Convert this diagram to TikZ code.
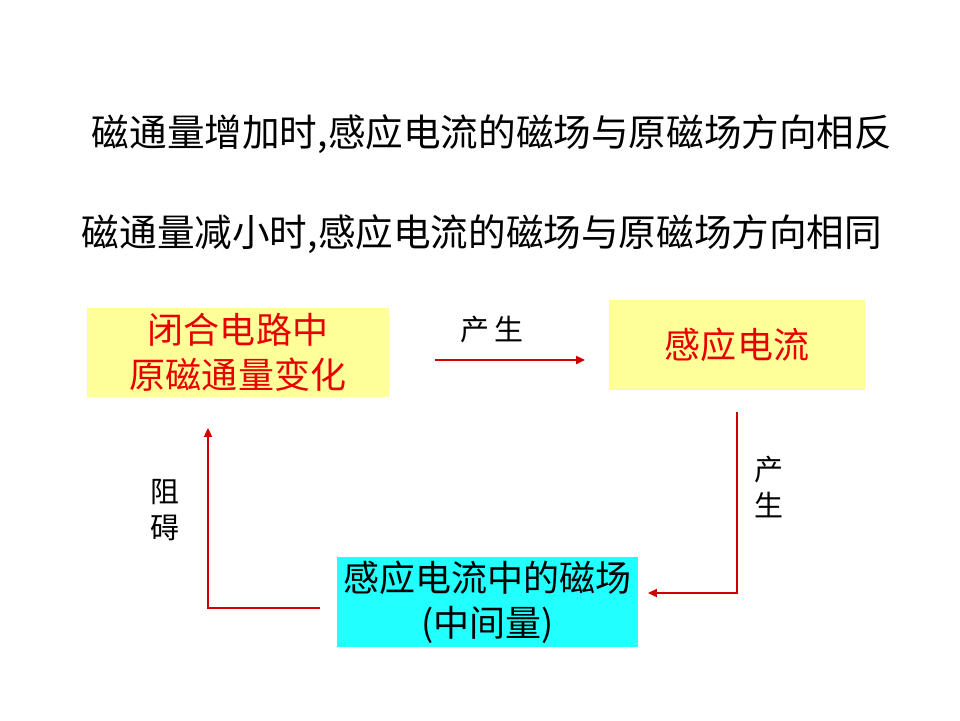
\documentclass[tikz,border=0pt]{standalone}
\usepackage{fontspec}
\setmainfont{Noto Sans CJK SC}
\usetikzlibrary{arrows.meta}
\definecolor{paleyellow}{HTML}{FFFF99}
\definecolor{brightcyan}{HTML}{22FFFF}
\definecolor{boxred}{HTML}{E80000}
\definecolor{linkred}{HTML}{D00000}
\begin{document}
\begin{tikzpicture} [
                x=0.02cm, y=-0.02cm,
                box/.style={fill=#1,minimum height=1.8cm,inner sep=0pt,align=center,
                    font=\fontsize{20.5}{25.5}\selectfont},
                rule/.style={font=\fontsize{21.4}{25}\selectfont},
                tag/.style={font=\fontsize{16.5}{21}\selectfont,align=center},
                link/.style = {draw=linkred,line width=1.1pt,-{Triangle[length=5pt,width=4.5pt]}},
            ]
            \useasboundingbox (0,0) rectangle (960,720);
            % The two rules on top
            \node[rule] (rise) at (492,134) {磁通量增加时,感应电流的磁场与原磁场方向相反};
            \node[rule] (fall) at (482,234) {磁通量减小时,感应电流的磁场与原磁场方向相同};
            % Boxes of the loop
            \node[box=paleyellow,minimum width=6.04cm,text=boxred] (change) at (238,352.5)
                {闭合电路中\\原磁通量变化};
            \node[box=paleyellow,minimum width=5.12cm,text=boxred] (current) at (737,345)
                {感应电流};
            \node[box=brightcyan,minimum width=6.02cm] (field) at (487.5,602)
                {感应电流中的磁场\\(中间量)};
            % Free ends of the connectors
            \foreach \x/\y/\name in {
                    435/360/p1, 585/360/p2, 737/412/p3, 737/593/p4,
                    648/593/p5, 320/608/p6, 208/608/p7, 208/428/p8}
                \coordinate (\name) at (\x,\y);
            % Connectors and their labels
            \path[link] (p1) -- (p2);
            \path[link] (p3) -- (p4) -- (p5);
            \path[link] (p6) -- (p7) -- (p8);
            \node[tag] (make) at (492,330) {产\,生};
            \node[tag] (make2) at (769,487) {产\\生};
            \node[tag] (block) at (165,510) {阻\\碍};
        \end{tikzpicture}
\end{document}
